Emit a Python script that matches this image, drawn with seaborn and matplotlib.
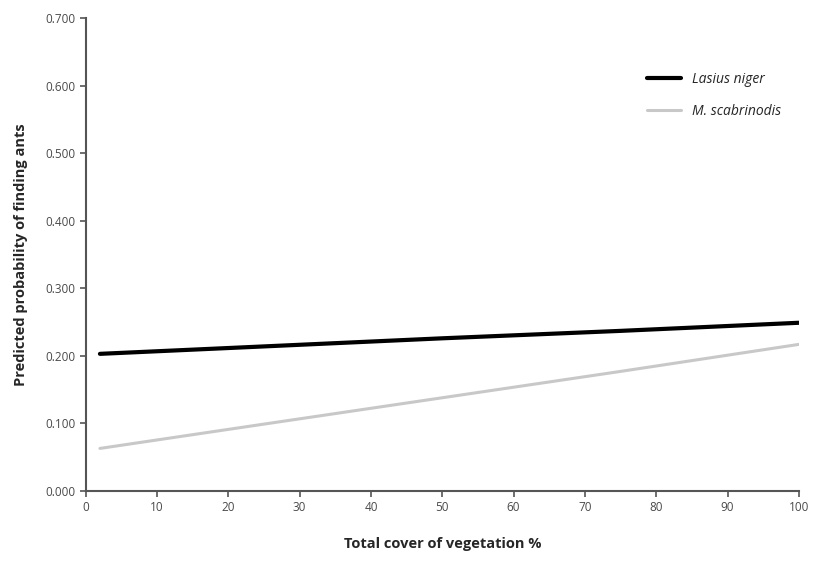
import pandas as pd
import matplotlib
matplotlib.use("Agg")
import matplotlib.pyplot as plt
import seaborn as sns

# data
cover = [2, 25, 50, 75, 100]
lasius = [0.203, 0.214, 0.226, 0.237, 0.249]
scabrinodis = [0.063, 0.099, 0.138, 0.177, 0.217]
x_ticks = [0, 10, 20, 30, 40, 50, 60, 70, 80, 90, 100]
y_ticks = [0.0, 0.1, 0.2, 0.3, 0.4, 0.5, 0.6, 0.7]

df = pd.DataFrame({
    "cover": cover * 2,
    "prob": lasius + scabrinodis,
    "species": ["Lasius niger"] * len(cover) + ["M. scabrinodis"] * len(cover),
})

sns.set_style("ticks")
plt.rcParams["font.family"] = ["Open Sans", "DejaVu Sans"]

fig = plt.figure(figsize=(8.16, 5.65), dpi=100)
ax = fig.add_axes([0.105, 0.131, 0.874, 0.837])

palette = {"Lasius niger": "#000000", "M. scabrinodis": "#c8c8c8"}
widths = {"Lasius niger": 3.0, "M. scabrinodis": 2.2}
sns.lineplot(data=df, x="cover", y="prob", hue="species", palette=palette,
             linewidth=3, ax=ax, legend=False)
for line, sp in zip(ax.lines, ["Lasius niger", "M. scabrinodis"]):
    line.set_linewidth(widths[sp])
    line.set_label(sp)

ax.set_xlim(0, 100)
ax.set_ylim(0, 0.7)
ax.set_xticks(x_ticks)
ax.set_yticks(y_ticks)
ax.set_yticklabels([f"{v:.3f}" for v in y_ticks])
ax.tick_params(axis="both", labelsize=8.5, colors="#555555", labelcolor="#4a4a4a",
               length=4, width=1.2, direction="out")
for side in ["left", "bottom"]:
    ax.spines[side].set_color("#555555")
    ax.spines[side].set_linewidth(1.5)
sns.despine(ax=ax)

ax.set_xlabel("Total cover of vegetation %", fontsize=10.5, fontweight="bold", labelpad=16)
ax.set_ylabel("Predicted probability of finding ants", fontsize=10.5, fontweight="bold", labelpad=12)

ax.legend(loc="upper left", bbox_to_anchor=(0.77, 0.912),
          frameon=False, prop={"style": "italic", "size": 10},
          handlelength=2.4, labelspacing=1.2)

plt.savefig("out.png", dpi=100)
